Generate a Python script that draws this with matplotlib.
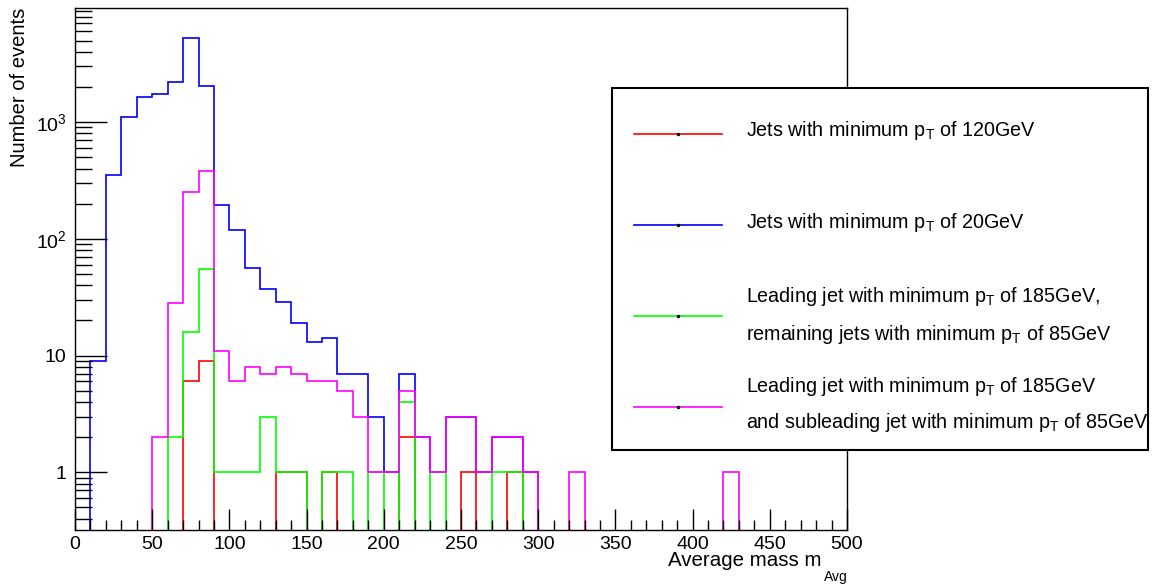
import numpy as np
import matplotlib
matplotlib.use("Agg")
import matplotlib.pyplot as plt
from matplotlib.lines import Line2D
from matplotlib.patches import Rectangle
from matplotlib.ticker import FixedLocator, FixedFormatter, NullFormatter

plt.rcParams['font.family'] = ['Liberation Sans', 'DejaVu Sans']
plt.rcParams['mathtext.fontset'] = 'custom'
plt.rcParams['mathtext.rm'] = 'Liberation Sans'
plt.rcParams['mathtext.it'] = 'Liberation Sans:italic'

# bin edges: 0..500 GeV, 10 GeV wide
edges = np.arange(0, 510, 10)

# event counts per bin
blue_20 = [0, 9, 350, 1100, 1650, 1750, 2200, 5300, 2050, 195,
           118, 56, 37, 29, 19, 13, 14, 7, 7, 3,
           1, 7, 2, 1, 3, 3, 1, 2, 2, 1,
           0, 0, 0, 0, 0, 0, 0, 0, 0, 0,
           0, 0, 0, 0, 0, 0, 0, 0, 0, 0]
red_120 = [0, 0, 0, 0, 0, 0, 0, 6, 9, 0,
           0, 0, 0, 1, 1, 0, 1, 0, 0, 0,
           0, 2, 0, 0, 0, 1, 0, 0, 1, 0,
           0, 0, 0, 0, 0, 0, 0, 0, 0, 0,
           0, 0, 0, 0, 0, 0, 0, 0, 0, 0]
green_185_85 = [0, 0, 0, 0, 0, 0, 2, 16, 55, 1,
                1, 1, 3, 1, 1, 0, 1, 1, 0, 1,
                0, 4, 0, 1, 0, 0, 0, 1, 1, 0,
                0, 0, 0, 0, 0, 0, 0, 0, 0, 0,
                0, 0, 0, 0, 0, 0, 0, 0, 0, 0]
magenta_185_85 = [0, 0, 0, 0, 0, 2, 28, 250, 380, 11,
                  6, 8, 7, 8, 7, 6, 6, 5, 3, 1,
                  1, 5, 2, 1, 3, 3, 1, 2, 2, 1,
                  0, 0, 1, 0, 0, 0, 0, 0, 0, 0,
                  0, 0, 1, 0, 0, 0, 0, 0, 0, 0]

ytick_vals = [1, 10, 100, 1000]
ytick_labels = ['1', '10', '$10^{2}$', '$10^{3}$']
xtick_vals = list(range(0, 501, 50))

labels = [
    ["Jets with minimum p$_{\\mathrm{T}}$ of 120GeV"],
    ["Jets with minimum p$_{\\mathrm{T}}$ of 20GeV"],
    ["Leading jet with minimum p$_{\\mathrm{T}}$ of 185GeV,",
     "remaining jets with minimum p$_{\\mathrm{T}}$ of 85GeV"],
    ["Leading jet with minimum p$_{\\mathrm{T}}$ of 185GeV",
     "and subleading jet with minimum p$_{\\mathrm{T}}$ of 85GeV"],
]
colors = ['#ff0000', '#0000ff', '#00ff00', '#ff00ff']

W, H = 1153, 586
fig = plt.figure(figsize=(W / 100, H / 100), dpi=100)
ax = fig.add_axes([75 / W, 1 - 530 / H, (847 - 75) / W, (530 - 8) / H])

ymin, ymax = 0.32, 9500
series = [red_120, blue_20, green_185_85, magenta_185_85]
for vals, c in zip(series, colors):
    v = np.array(vals, dtype=float)
    v = np.where(v > 0, v, 1e-3)  # empty bins drop to the frame bottom
    ax.stairs(v, edges, color=c, lw=1.2, baseline=None)

ax.set_yscale('log')
ax.set_xlim(0, 500)
ax.set_ylim(ymin, ymax)

ax.yaxis.set_major_locator(FixedLocator(ytick_vals))
ax.yaxis.set_major_formatter(FixedFormatter(ytick_labels))
minors = [m * 10.0 ** e for e in range(-1, 4) for m in range(2, 10)]
minors = [m for m in minors if ymin < m < ymax]
ax.yaxis.set_minor_locator(FixedLocator(minors))
ax.yaxis.set_minor_formatter(NullFormatter())
ax.xaxis.set_major_locator(FixedLocator(xtick_vals))
ax.xaxis.set_minor_locator(FixedLocator(list(range(0, 501, 10))))

ax.tick_params(axis='both', which='both', direction='in', top=False, right=False,
               labelsize=14, width=1.0)
ax.tick_params(axis='y', which='major', length=23, pad=6)
ax.tick_params(axis='y', which='minor', length=12)
ax.tick_params(axis='x', which='major', length=15, pad=4)
ax.tick_params(axis='x', which='minor', length=7)
for s in ax.spines.values():
    s.set_linewidth(1.0)

fig.text(20 / W, 1 - 8 / H, "Number of events", rotation=90, ha='center', va='top',
         fontsize=14.5)
fig.text(822 / W, 1 - 561 / H, "Average mass m", ha='right', va='center', fontsize=14.8)
fig.text(824 / W, 1 - 577 / H, "Avg", ha='left', va='center', fontsize=10)

# legend box
def fx(x):
    return x / W

def fy(y):
    return 1 - y / H

fig.add_artist(Rectangle((fx(612), fy(450)), fx(1148) - fx(612), fy(88) - fy(450),
                         transform=fig.transFigure, facecolor='white', edgecolor='black',
                         lw=1.5, zorder=10))
line_y = [134, 225, 316, 407]
text_y = [[131], [222], [297, 335], [387, 423]]
for c, ly, tys, labs in zip(colors, line_y, text_y, labels):
    fig.add_artist(Line2D([fx(634), fx(722)], [fy(ly), fy(ly)], transform=fig.transFigure,
                          color=c, lw=1.2, zorder=11))
    fig.add_artist(Line2D([fx(678)], [fy(ly)], transform=fig.transFigure, marker='o',
                          markersize=1.5, color='black', zorder=12))
    for ty, lab in zip(tys, labs):
        fig.text(fx(746), fy(ty), lab, ha='left', va='center', fontsize=14.2, zorder=12)

fig.savefig('out.png', dpi=100)
